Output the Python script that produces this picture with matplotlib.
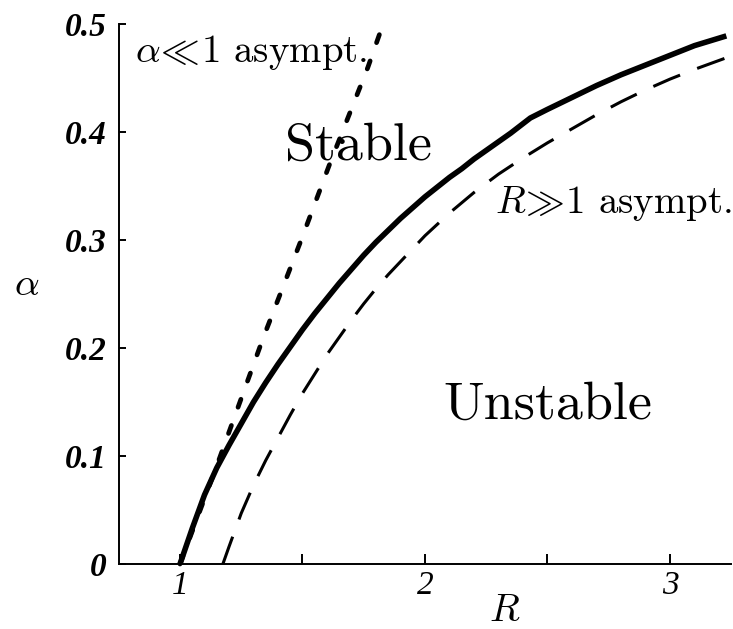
"""
stability_boundary.py
Neutral stability curve alpha(R) with its two asymptotes.
Saves out.png
"""

import numpy as np
import matplotlib
matplotlib.use('Agg')
import matplotlib.pyplot as plt

# ── neutral curve (solid) ─────────────────────────────────────────────────────
R_NEUTRAL     = [1.00, 1.05, 1.10, 1.15, 1.20, 1.25, 1.30, 1.35, 1.40, 1.45,
                 1.50, 1.55, 1.60, 1.65, 1.70, 1.75, 1.80, 1.85, 1.90, 1.95,
                 2.00, 2.05, 2.10, 2.15, 2.20, 2.25, 2.30, 2.35, 2.43, 2.50,
                 2.60, 2.70, 2.80, 2.90, 3.00, 3.10, 3.23]
ALPHA_NEUTRAL = [0.000, 0.033, 0.064, 0.089, 0.110, 0.130, 0.150, 0.168, 0.185, 0.201,
                 0.217, 0.232, 0.246, 0.260, 0.273, 0.286, 0.298, 0.309, 0.320, 0.330,
                 0.340, 0.349, 0.358, 0.366, 0.375, 0.383, 0.391, 0.399, 0.413, 0.421,
                 0.432, 0.443, 0.453, 0.462, 0.471, 0.480, 0.489]

# ── R >> 1 asymptote (dashed) ─────────────────────────────────────────────────
R_LARGE     = [1.175, 1.20, 1.25, 1.30, 1.35, 1.40, 1.45, 1.50, 1.55, 1.60,
               1.65, 1.70, 1.75, 1.80, 1.85, 1.90, 1.95, 2.00, 2.10, 2.20,
               2.30, 2.40, 2.50, 2.60, 2.70, 2.80, 2.90, 3.00, 3.10, 3.233]
ALPHA_LARGE = [0.000, 0.016, 0.047, 0.073, 0.096, 0.117, 0.138, 0.158, 0.176, 0.194,
               0.210, 0.226, 0.241, 0.255, 0.268, 0.280, 0.292, 0.304, 0.325, 0.344,
               0.361, 0.376, 0.390, 0.403, 0.416, 0.428, 0.439, 0.449, 0.458, 0.469]

# ── alpha << 1 asymptote (dotted) ─────────────────────────────────────────────
R_SMALL     = [1.00, 1.155, 1.339, 1.498, 1.612, 1.767, 1.829]
ALPHA_SMALL = [0.000, 0.094, 0.209, 0.302, 0.371, 0.460, 0.500]

X_TICKS  = [1, 2, 3]
X_MINOR  = [1.5, 2.5]
Y_TICKS  = [0, 0.1, 0.2, 0.3, 0.4, 0.5]
Y_LABELS = ['0', '0.1', '0.2', '0.3', '0.4', '0.5']

plt.rcParams['mathtext.fontset'] = 'cm'
plt.rcParams['font.family'] = 'serif'
plt.rcParams['font.serif'] = ['cmr10', 'DejaVu Serif']
plt.rcParams['axes.formatter.use_mathtext'] = True

TICK_FONT = 'Liberation Serif'


def main():
    fig = plt.figure(figsize=(7.33, 6.29), dpi=100)
    ax = fig.add_axes([0.162, 0.1033, 0.8356, 0.8585])

    ax.plot(R_NEUTRAL, ALPHA_NEUTRAL, color='black', lw=4.0,
            solid_capstyle='butt', solid_joinstyle='round', clip_on=False)
    ax.plot(R_LARGE, ALPHA_LARGE, color='black', lw=2.2,
            dashes=(9.5, 6.0), clip_on=False)
    ax.plot(R_SMALL, ALPHA_SMALL, color='black', lw=3.4,
            dashes=(1.8, 4.1), dash_capstyle='round', clip_on=False)

    ax.set_xlim(0.75, 3.25)
    ax.set_ylim(0, 0.5)

    for side in ('top', 'right'):
        ax.spines[side].set_visible(False)
    for side in ('left', 'bottom'):
        ax.spines[side].set_linewidth(1.4)

    ax.set_xticks(X_TICKS)
    ax.set_xticks(X_MINOR, minor=True)
    ax.set_xticklabels([str(t) for t in X_TICKS], fontfamily=TICK_FONT,
                       fontstyle='italic', fontsize=24)
    ax.set_yticks(Y_TICKS)
    ax.set_yticklabels(Y_LABELS, fontfamily=TICK_FONT, fontstyle='italic',
                       fontweight='bold', fontsize=24)
    ax.tick_params(axis='x', which='both', direction='in', length=7,
                   width=1.4, pad=5)
    ax.tick_params(axis='y', direction='in', length=5, width=1.4, pad=9)

    ax.set_xlabel(r'$R$', fontsize=28, va='center')
    ax.xaxis.set_label_coords(0.63, -0.087)
    ax.set_ylabel(r'$\alpha$', fontsize=28, rotation=0, va='center', ha='center')
    ax.yaxis.set_label_coords(-0.15, 0.517)

    ax.text(0.816, 0.465, r'$\alpha\!\ll\!1$ asympt.', fontsize=28,
            va='baseline', ha='left')
    ax.text(2.286, 0.325, r'$R\!\gg\!1$ asympt.', fontsize=28,
            va='baseline', ha='left')
    ax.text(1.429, 0.374, 'Stable', fontsize=39, va='baseline', ha='left')
    ax.text(2.073, 0.135, 'Unstable', fontsize=39, va='baseline', ha='left')

    fig.savefig('out.png', dpi=100, facecolor='white')
    plt.close(fig)


if __name__ == "__main__":
    main()
